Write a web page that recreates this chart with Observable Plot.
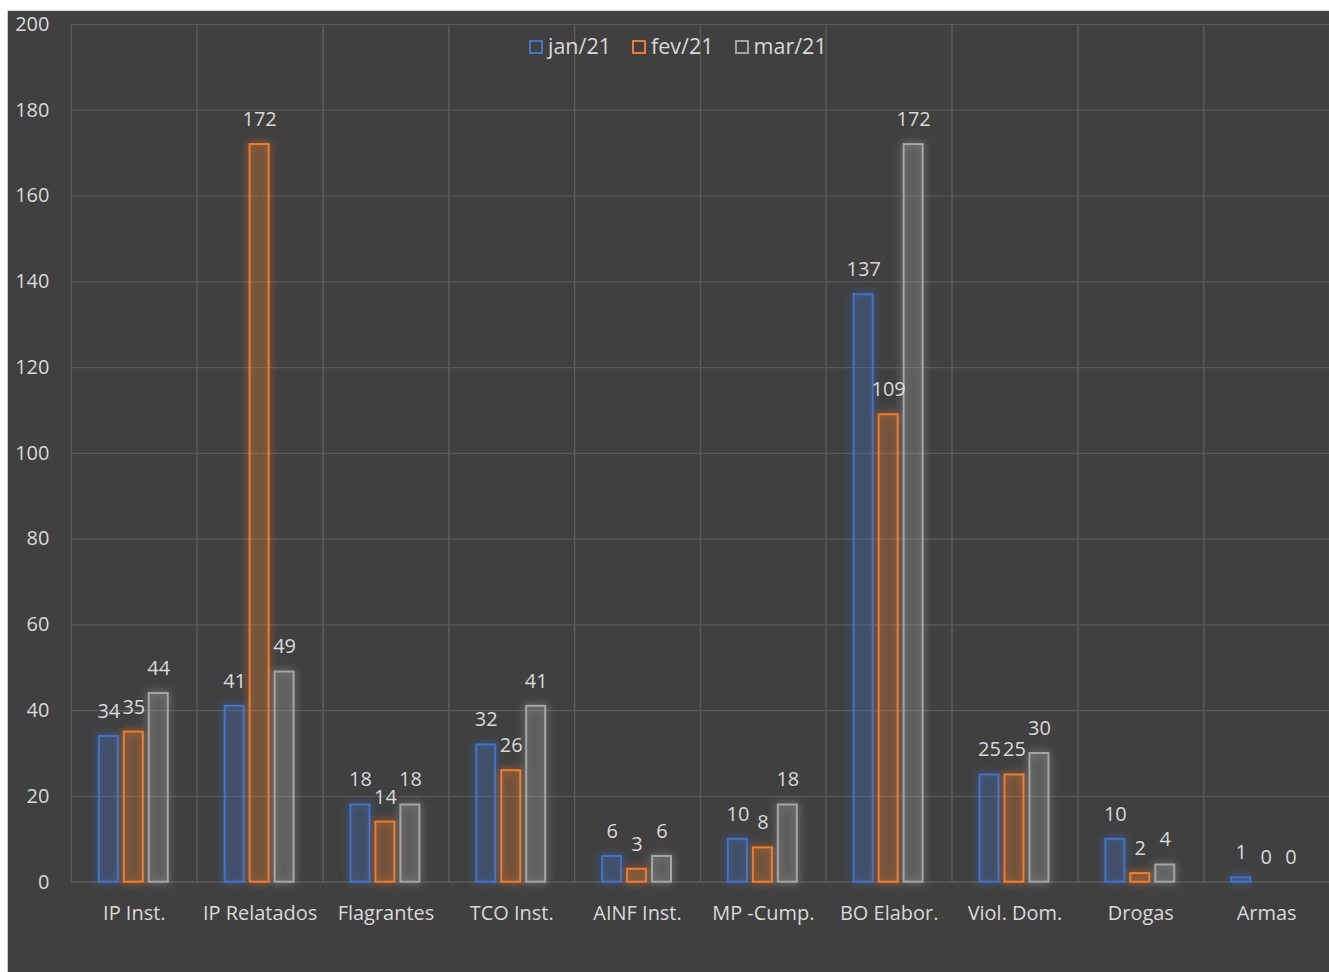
<!DOCTYPE html>
<html>
<head>
<meta charset="utf-8">
<script src="https://cdn.jsdelivr.net/npm/d3@7"></script>
<script src="https://cdn.jsdelivr.net/npm/@observablehq/plot@0.6"></script>
<style>
  html, body { margin: 0; padding: 0; background: #ffffff; }
  #wrap { position: absolute; left: 7px; top: 10px; width: 1321px; height: 961px; background: #404040;
          border-left: 1px solid #d0d0d0; border-top: 1px solid #d0d0d0; overflow: hidden; }
  #legend { position: absolute; left: 521px; top: 20px; display: flex; align-items: center;
            font-family: "Open Sans", Lato, sans-serif; font-size: 21.5px; color: #d9d9d9; }
  #legend .item { display: flex; align-items: center; margin-right: 21px; }
  #legend .sw { width: 10px; height: 10px; border: 2px solid; margin-right: 5px; margin-top: 2px; }
</style>
</head>
<body>
<div id="wrap"><div id="legend"></div></div>
<script>
const categories = ["IP Inst.", "IP Relatados", "Flagrantes", "TCO Inst.", "AINF Inst.", "MP -Cump.", "BO Elabor.", "Viol. Dom.", "Drogas", "Armas"];
const series = ["jan/21", "fev/21", "mar/21"];
const jan21 = [34, 41, 18, 32, 6, 10, 137, 25, 10, 1];
const fev21 = [35, 172, 14, 26, 3, 8, 109, 25, 2, 0];
const mar21 = [44, 49, 18, 41, 6, 18, 172, 30, 4, 0];
const colors = ["#4472c4", "#ed7d31", "#a5a5a5"];
const yTicks = [0, 20, 40, 60, 80, 100, 120, 140, 160, 180, 200];

const seriesValues = [jan21, fev21, mar21];
const data = categories.flatMap((c, i) => series.map((s, j) => ({category: c, series: s, value: seriesValues[j][i]})));

const chart = Plot.plot({
  width: 1323, height: 961,
  marginLeft: 63, marginRight: 0, marginTop: 13, marginBottom: 89,
  style: {background: "transparent", color: "#d9d9d9", fontFamily: "'Open Sans', Lato, sans-serif", fontSize: "20px"},
  facet: {data, x: "category"},
  fx: {domain: categories, padding: 0, label: null, tickSize: 0, tickPadding: 24, axis: "bottom"},
  x: {domain: series, paddingInner: 0.235, paddingOuter: 1.09, axis: null},
  y: {domain: [0, 200], ticks: yTicks, tickSize: 0, tickPadding: 22, label: null, tickFormat: d => String(d)},
  color: {domain: series, range: colors},
  marks: [
    Plot.ruleY(yTicks, {stroke: "#5a5a5a", strokeWidth: 1.2}),
    Plot.frame({stroke: "#5a5a5a", strokeWidth: 1.2}),
    Plot.barY(data, {x: "series", y: "value", stroke: "series", fill: "series", fillOpacity: 0.15, strokeWidth: 2}),
    Plot.text(data, {x: "series", y: "value", text: d => String(d.value), dy: -25, fill: "#d9d9d9", fontSize: 20})
  ]
});

d3.select(chart).selectAll('g[aria-label="bar"] rect').each(function () {
  const c = this.getAttribute("stroke");
  if (c) this.style.filter = `drop-shadow(0 0 4px ${c})`;
});

document.getElementById("wrap").appendChild(chart);

const legend = d3.select("#legend");
series.forEach((s, i) => {
  const item = legend.append("div").attr("class", "item");
  item.append("div").attr("class", "sw").style("border-color", colors[i]);
  item.append("span").text(s);
});
</script>
</body>
</html>
